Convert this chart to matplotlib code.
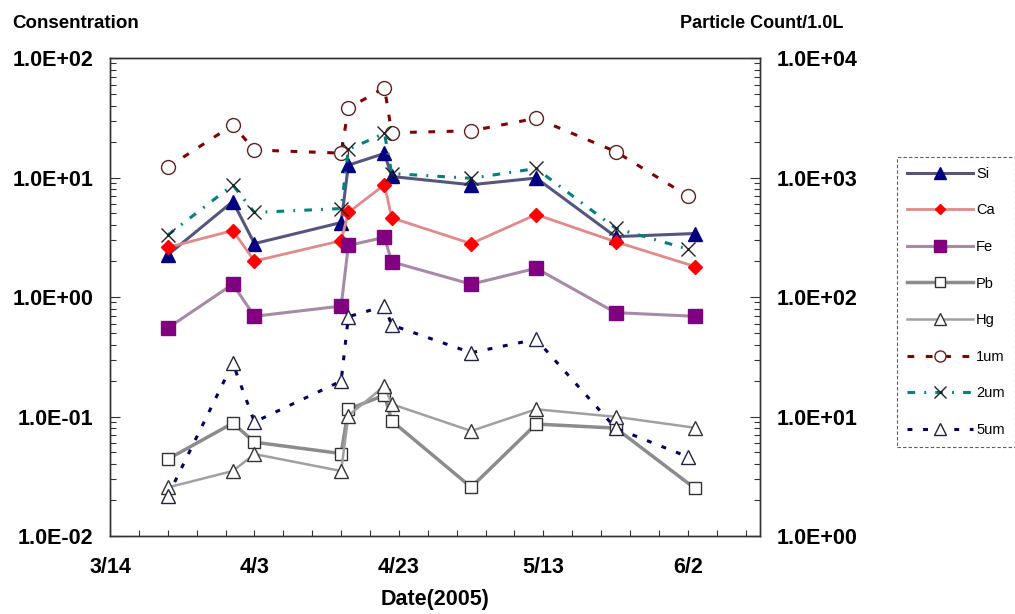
"""Element concentration and particle count, spring 2005."""
import math
import datetime as dt
import matplotlib
matplotlib.use("Agg")
import matplotlib.pyplot as plt
import matplotlib.dates as mdates
from matplotlib.ticker import LogLocator, FuncFormatter, NullFormatter, FixedLocator

plt.rcParams["font.family"] = ["Liberation Sans", "DejaVu Sans"]

elem_dates = ["2005-03-22", "2005-03-31", "2005-04-03", "2005-04-15", "2005-04-16", "2005-04-21",
              "2005-04-22", "2005-05-03", "2005-05-12", "2005-05-23", "2005-06-03"]
part_dates = ["2005-03-22", "2005-03-31", "2005-04-03", "2005-04-15", "2005-04-16", "2005-04-21",
              "2005-04-22", "2005-05-03", "2005-05-12", "2005-05-23", "2005-06-02"]

si = [2.25, 6.3, 2.8, 4.2, 12.7, 15.9, 10.2, 8.7, 9.9, 3.2, 3.4]
ca = [2.6, 3.6, 2.0, 2.96, 5.1, 8.7, 4.6, 2.8, 4.9, 2.9, 1.8]
fe = [0.55, 1.28, 0.69, 0.84, 2.7, 3.16, 1.97, 1.28, 1.74, 0.74, 0.69]
pb = [0.044, 0.088, 0.061, 0.049, 0.115, 0.151, 0.092, 0.0256, 0.0865, 0.080, 0.025]
hg = [0.0255, 0.035, 0.0485, 0.035, 0.1016, 0.180, 0.127, 0.0757, 0.115, 0.0995, 0.0805]

um1 = [1220, 2750, 1700, 1600, 3800, 5650, 2370, 2460, 3130, 1650, 700]
um2 = [330, 865, 510, 550, 1720, 2340, 1080, 985, 1190, 376, 252]
um5 = [2.16, 27.9, 9.0, 19.8, 68.4, 84, 58.3, 34.2, 44.3, 8.0, 4.6]

ed = [dt.datetime.strptime(s, "%Y-%m-%d") for s in elem_dates]
pdt = [dt.datetime.strptime(s, "%Y-%m-%d") for s in part_dates]
x0, x1 = dt.datetime(2005, 3, 14), dt.datetime(2005, 6, 12)


def sci(v, pos):
    return f"1.0E{int(round(math.log10(v))):+03d}"


def md(v, pos):
    d = mdates.num2date(v)
    return f"{d.month}/{d.day}"


fig = plt.figure(figsize=(10.15, 6.14), dpi=100)
ax = fig.add_axes([0.1084, 0.127, 0.6404, 0.7785])
ax2 = ax.twinx()

ax.plot(ed, si, "-", color="#55557f", lw=2.2, marker="^", ms=10, mfc="#000080", mec="#000080", label="Si")
ax.plot(ed, ca, "-", color="#e08a8a", lw=2, marker="D", ms=7, mfc="#ff0000", mec="#ff0000", label="Ca")
ax.plot(ed, fe, "-", color="#a68aa6", lw=2.2, marker="s", ms=10, mfc="#800080", mec="#800080", label="Fe")
ax.plot(ed, pb, "-", color="#8c8c8c", lw=2.5, marker="s", ms=9, mfc="white", mec="#333333", mew=1, label="Pb")
ax.plot(ed, hg, "-", color="#a0a0a0", lw=1.8, marker="^", ms=10, mfc="white", mec="#333333", mew=1, label="Hg")

ax2.plot(pdt, um1, color="#800000", lw=2.2, ls=(0, (2.2, 3.8)), marker="o", ms=10, mfc="white", mec="#602020",
         mew=1, label="1um")
ax2.plot(pdt, um2, color="#008080", lw=2.2, ls=(0, (2.5, 3, 0.6, 3)), marker="x", ms=10, mec="#222222",
         mew=1, label="2um")
ax2.plot(pdt, um5, color="#000060", lw=2.2, ls=(0, (1.6, 3.5)), marker="^", ms=10, mfc="white", mec="#222244",
         mew=1, label="5um")

ax.set_yscale("log"); ax.set_ylim(1e-2, 1e2)
ax2.set_yscale("log"); ax2.set_ylim(1e0, 1e4)
ax.set_xlim(x0, x1)
ax.xaxis.set_major_locator(FixedLocator([mdates.date2num(x0 + dt.timedelta(days=d)) for d in range(0, 81, 20)]))
ax.xaxis.set_minor_locator(FixedLocator([mdates.date2num(x0 + dt.timedelta(days=d)) for d in range(0, 90, 4)]))
ax.xaxis.set_major_formatter(FuncFormatter(md))

for a in (ax, ax2):
    a.yaxis.set_major_locator(LogLocator(base=10, numticks=10))
    a.yaxis.set_minor_locator(LogLocator(base=10, subs=range(2, 10), numticks=10))
    a.yaxis.set_major_formatter(FuncFormatter(sci))
    a.yaxis.set_minor_formatter(NullFormatter())
    a.tick_params(which="both", direction="in", labelsize=15.5, width=0.8, color="#333333")
    a.tick_params(which="major", length=7)
    a.tick_params(which="minor", length=4)
    a.tick_params(axis="y", pad=12)
    for sp in a.spines.values():
        sp.set_color("#333333"); sp.set_linewidth(1)
ax.tick_params(axis="x", which="both", length=4, pad=15)
for lab in ax.get_xticklabels() + ax.get_yticklabels() + ax2.get_yticklabels():
    lab.set_fontweight("bold")

ax.set_xlabel("Date(2005)", fontsize=15.5, fontweight="bold", labelpad=8)
fig.text(0.012, 0.962, "Consentration", fontsize=13.5, fontweight="bold", va="center")
fig.text(0.831, 0.962, "Particle Count/1.0L", fontsize=13, fontweight="bold", va="center", ha="right")

h1, l1 = ax.get_legend_handles_labels()
h2, l2 = ax2.get_legend_handles_labels()
leg = fig.legend(h1 + h2, l1 + l2, loc="upper left", bbox_to_anchor=(0.884, 0.745), borderaxespad=0,
                 fontsize=10.5, handlelength=4.5, handletextpad=0.2, labelspacing=1.55, borderpad=0.7,
                 frameon=True, fancybox=False, markerscale=0.8)
fr = leg.get_frame()
fr.set_linestyle((0, (3, 2))); fr.set_edgecolor("#333333"); fr.set_linewidth(0.8)

fig.savefig("out.png", dpi=100)
